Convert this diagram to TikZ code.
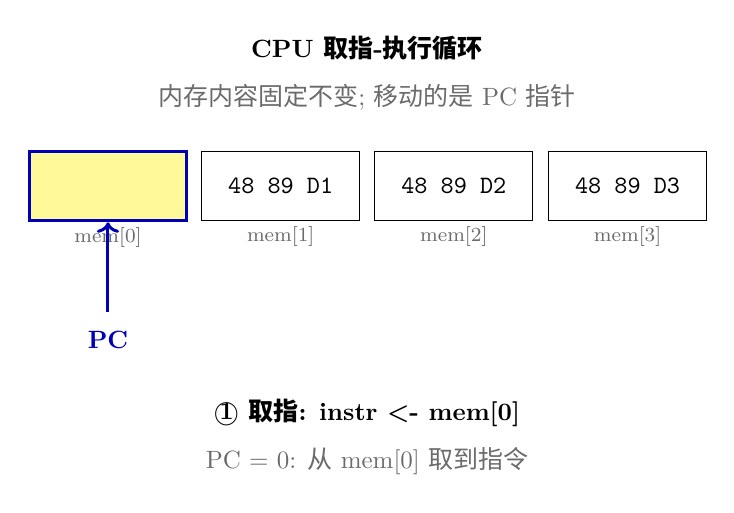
\documentclass[tikz,border=0pt]{standalone}
\usepackage{fontspec}
\newfontfamily\cjk{Noto Sans CJK SC}
\usepackage{xcolor}
\definecolor{pcBlue}{HTML}{0000B4}
\definecolor{cellYellow}{HTML}{FFF99A}
\definecolor{noteGray}{HTML}{6B6B6B}
\usetikzlibrary{arrows.meta,positioning}
\tikzset{
    cell/.style={
        draw=black,
        fill=white,
        rectangle,
        minimum width=2.22cm,
        minimum height=0.98cm,
        font=\ttfamily
    },
    current/.style={
        cell,
        draw=pcBlue,
        fill=cellYellow,
        very thick
    },
    addr/.style={
        font=\footnotesize,
        text=noteGray,
        below=-0.05cm
    },
    title/.style={
        font=\bfseries
    },
    note/.style={
        text=noteGray
    },
    pcarrow/.style={
        ->,
        very thick,
        color=pcBlue,
        shorten <=4pt
    }
}

\begin{document}
\begin{tikzpicture}
    \useasboundingbox (0,0) rectangle (10.32,-7.20);

    \node[title] (title) at (5.16,-0.675) {CPU {\cjk 取指}-{\cjk 执行循环}};
    \node[note] (subtitle) at (5.16,-1.363) {{\cjk 内存内容固定不变}; {\cjk 移动的是} PC {\cjk 指针}};

    % memory cells
    \node[current] (mem0) at (1.518,-2.614) {};
    \node[cell, right=0.18cm of mem0] (mem1) {48 89 D1};
    \node[cell, right=0.2cm of mem1] (mem2) {48 89 D2};
    \node[cell, right=0.21cm of mem2] (mem3) {48 89 D3};

    \node[addr] at (mem0.south) (addr0) {mem[0]};
    \node[addr] at (mem1.south) (addr1) {mem[1]};
    \node[addr] at (mem2.south) (addr2) {mem[2]};
    \node[addr] at (mem3.south) (addr3) {mem[3]};

    % program counter
    \node[font=\bfseries, text=pcBlue] (pc) at (1.518,-4.78) {PC};
    \draw[pcarrow] (pc.north) -- (mem0.south);

    \node[title] (step) at (5.16,-5.805) {\textcircled{1}\ {\cjk 取指}: instr <- mem[0]};
    \node[note] (detail) at (5.16,-6.48) {PC = 0: {\cjk 从} mem[0] {\cjk 取到指令}};
\end{tikzpicture}
\end{document}
